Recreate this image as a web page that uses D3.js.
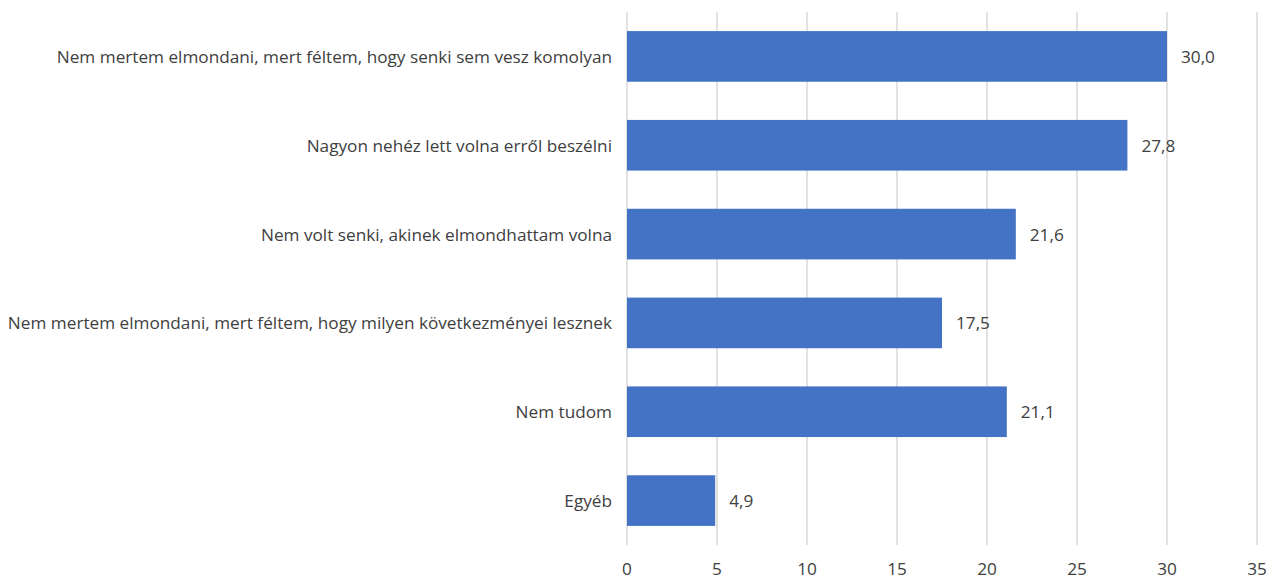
<!DOCTYPE html>
<html>
<head>
<meta charset="utf-8">
<script src="https://cdn.jsdelivr.net/npm/d3@7"></script>
<style>
  html, body { margin: 0; padding: 0; background: #fff; }
  svg { display: block; }
  text { font-family: "Open Sans", Lato, sans-serif; fill: #404040; font-size: 17.2px; }
</style>
</head>
<body>
<svg id="chart" width="1274" height="579"></svg>
<script>
const categories = [
  "Nem mertem elmondani, mert féltem, hogy senki sem vesz komolyan",
  "Nagyon nehéz lett volna erről beszélni",
  "Nem volt senki, akinek elmondhattam volna",
  "Nem mertem elmondani, mert féltem, hogy milyen következményei lesznek",
  "Nem tudom",
  "Egyéb"
];
const values = [30.0, 27.8, 21.6, 17.5, 21.1, 4.9];
const tickValues = [0, 5, 10, 15, 20, 25, 30, 35];

const svg = d3.select("#chart");
const plot = { left: 627, right: 1257, top: 12, bottom: 545 };

const x = d3.scaleLinear().domain([0, 35]).range([plot.left, plot.right]);
const y = d3.scaleBand().domain(categories).range([plot.top, plot.bottom])
  .paddingInner(0.43).paddingOuter(0.215);

// vertical gridlines
svg.append("g").selectAll("line").data(tickValues).join("line")
  .attr("x1", d => x(d)).attr("x2", d => x(d))
  .attr("y1", plot.top).attr("y2", plot.bottom)
  .attr("stroke", "#d9d9d9").attr("stroke-width", 1.5);

// x axis labels
const fmt = d3.format("d");
svg.append("g").selectAll("text").data(tickValues).join("text")
  .attr("x", d => x(d)).attr("y", 568)
  .attr("text-anchor", "middle").attr("dominant-baseline", "central")
  .text(d => fmt(d));

// bars
svg.append("g").selectAll("rect").data(values).join("rect")
  .attr("x", x(0))
  .attr("y", (d, i) => y(categories[i]))
  .attr("width", d => x(d) - x(0))
  .attr("height", y.bandwidth())
  .attr("fill", "#4472C4");

// value labels
const valFmt = d => d.toFixed(1).replace(".", ",");
svg.append("g").selectAll("text").data(values).join("text")
  .attr("x", d => x(d) + 14)
  .attr("y", (d, i) => y(categories[i]) + y.bandwidth() / 2)
  .attr("dominant-baseline", "central")
  .text(valFmt);

// category labels
svg.append("g").selectAll("text").data(categories).join("text")
  .attr("x", plot.left - 15)
  .attr("y", d => y(d) + y.bandwidth() / 2)
  .attr("text-anchor", "end").attr("dominant-baseline", "central")
  .text(d => d);
</script>
</body>
</html>
